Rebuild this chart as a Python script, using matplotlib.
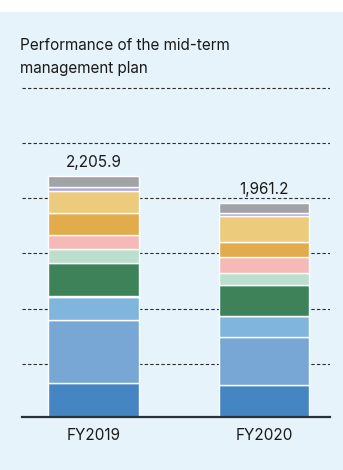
import matplotlib.pyplot as plt
from matplotlib.patches import Rectangle

plt.rcParams['font.family'] = ['Inter', 'DejaVu Sans']

years = ['FY2019', 'FY2020']
totals = [2205.9, 1961.2]

# stacked segments, bottom to top
seg_values = [
    [310, 293],     # dark blue
    [575, 445],     # blue
    [217, 185],     # light blue
    [7, 0],         # pale teal
    [304, 287],     # dark green
    [125, 113],     # light green
    [130, 146],     # pink
    [206, 138],     # orange
    [202, 233],     # yellow
    [32, 30],       # lavender
    [97.9, 91.2],   # gray
]
seg_colors = ['#4585c2', '#78a7d6', '#80b6de', '#b7d8c9', '#3d8259', '#bbdecd',
              '#f5b9b8', '#e2ab4b', '#eccc7c', '#b0a8d6', '#a0a4a7']

grid_lines = [484, 990, 1502, 2006, 2510, 3017]

fig = plt.figure(figsize=(3.43, 4.70), dpi=100)
fig.patch.set_facecolor('white')
fig.patches.append(Rectangle((0, 0), 1, 458 / 470, transform=fig.transFigure,
                             facecolor='#e6f3fb', edgecolor='none', zorder=-5))

title_lines = ['Performance of the mid-term', 'management plan']
for k, line in enumerate(title_lines):
    fig.text(20 / 343, 1 - (45 + 23 * k) / 470, line,
             fontsize=11, color='#1a1a1a', va='center', ha='left')

ax = fig.add_axes([22 / 343, 1 - 417 / 470, 308 / 343, 332 / 470])
ax.set_facecolor('none')

x = range(len(years))
bottom = [0, 0]
for vals, col in zip(seg_values, seg_colors):
    ax.bar(x, vals, width=0.534, bottom=bottom, color=col,
           edgecolor='white', linewidth=1.0, zorder=3)
    bottom = [b + v for b, v in zip(bottom, vals)]

for i, t in enumerate(totals):
    ax.text(i, t + 55, f'{t:,.1f}', ha='center', va='bottom',
            fontsize=11, color='#1a1a1a')

for g in grid_lines:
    ax.axhline(g, color='#2b2b2b', linewidth=0.8, linestyle=(0, (3, 2)), zorder=1)

ax.set_xlim(-0.421, 1.3875)
ax.set_ylim(0, 3044)
ax.set_xticks(list(x))
ax.set_xticklabels(years, fontsize=11, color='#1a1a1a')
ax.tick_params(axis='x', length=0, pad=8)
ax.set_yticks([])
for s in ['top', 'right', 'left']:
    ax.spines[s].set_visible(False)
ax.spines['bottom'].set_color('#2a3238')
ax.spines['bottom'].set_linewidth(1.6)
ax.spines['bottom'].set_zorder(4)

fig.savefig('out.png', dpi=100, facecolor=fig.get_facecolor())
